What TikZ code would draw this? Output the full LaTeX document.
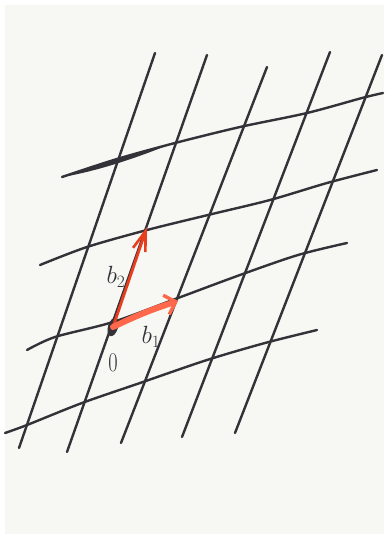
\documentclass[tikz,border=0pt]{standalone}
\usetikzlibrary{arrows.meta,shapes.geometric}
\definecolor{paper}{RGB}{247,247,243}
\definecolor{gridink}{RGB}{50,50,56}
\definecolor{vecred}{RGB}{232,62,30}
\definecolor{vecorange}{RGB}{255,104,74}
\begin{document}
\begin{tikzpicture}[
    x=1pt, y=-1pt,
    gridline/.style={line width=2.4pt, color=gridink, line cap=round},
    vectwo/.style={-{Straight Barb[length=20pt, width=13pt, line width=2.6pt]},
                   line width=2.8pt, color=vecred, line cap=round},
    vecone/.style={-{Straight Barb[length=10pt, width=20pt, line width=3.4pt]},
                   line width=6pt, color=vecorange, line cap=round},
    lbl/.style={font=\fontsize{27}{30}\selectfont, color=gridink, inner sep=0pt},
    origindot/.style={ellipse, fill=gridink, minimum width=10pt,
                      minimum height=19pt, inner sep=0pt, rotate=-17},
]

% === Paper ===
\useasboundingbox (0,0) rectangle (384,534);
\fill[paper] (5,5) rectangle (384,534);

% === Slanted lattice lines ===
\draw[gridline] (155,53) -- (19,448);
\draw[gridline] (207,55) -- (67,452);
\draw[gridline] (267,67) -- (121,443);
\draw[gridline] (330,52) -- (182,437);
\draw[gridline] (382,55) -- (235,433);

% === Flat lattice lines ===
\draw[gridline] plot[smooth] coordinates
    {(62,177) (117,159) (175,143) (240,127) (307,113) (362,98) (383,93)};
% heavier stroke on the left of the top line
\fill[gridink] (63,177) .. controls (95,164.8) and (130,154.3) .. (172,143.5)
    .. controls (130,160.6) and (95,171.2) .. cycle;
\draw[gridline] plot[smooth] coordinates
    {(40,265) (87,247) (147,230) (208,215) (270,200) (327,183) (377,170)};
\draw[gridline] plot[smooth] coordinates
    {(27,350) (55,337) (113,322) (178,298) (240,275) (298,255) (347,243)};
\draw[gridline] plot[smooth] coordinates
    {(5,433) (27,425) (82,403) (140,383) (207,360) (265,343) (317,330)};

% === Origin and basis vectors ===
\node[origindot] (O) at (113,327) {};
\coordinate (btwo) at (147,227);
\coordinate (bone) at (178,301);

\draw[vectwo] (O.center) -- (btwo);
\draw[vecone] (O.center) to[bend left=4] (bone);

% === Labels ===
\node[lbl] (btwolbl) at (116,277) {$b_2$};
\node[lbl] (bonelbl) at (151,337) {$b_1$};
\node[lbl, xscale=0.75] (Olbl) at (113,363) {0};

\end{tikzpicture}
\end{document}
